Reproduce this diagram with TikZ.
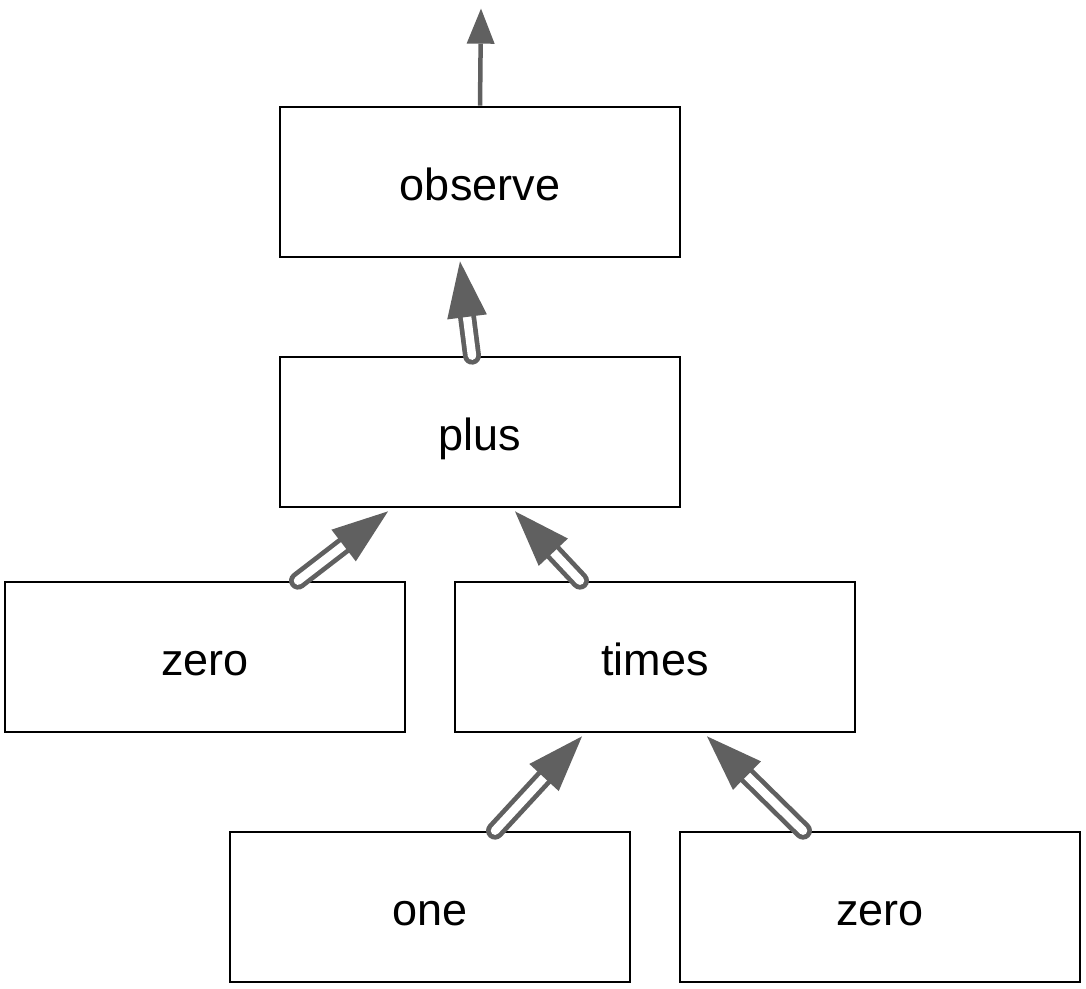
\documentclass[tikz,border=0pt]{standalone}
\usepackage{fontspec}
\setmainfont{Liberation Sans}
\usetikzlibrary{calc}
\definecolor{arrgray}{HTML}{606060}
\tikzset{
  box/.style={draw=black, line width=2.7pt, minimum width=400pt, minimum height=150pt, inner sep=0pt, text height=39pt, text depth=3pt, font=\fontsize{45}{54}\selectfont},
}
\newcommand{\hollowarrow}[2]{%
  \coordinate (hb) at ($(#2)!56pt!(#1)$);
  \draw[arrgray, line width=18pt, line cap=round] (#1) -- ($(hb)!-2pt!(#1)$);
  \draw[white, line width=8.5pt, line cap=round] (#1) -- ($(hb)!-2pt!(#1)$);
  \fill[arrgray] (#2) -- ($(hb)!20pt!90:(#2)$) -- ($(hb)!20pt!-90:(#2)$) -- cycle;
}
\begin{document}
\begin{tikzpicture}[x=1pt, y=-1pt]
\useasboundingbox (0,0) rectangle (1086,988);
\node[box] (observe) at (480,182) {observe};
\node[box] (plus) at (480,432) {plus};
\node[box] (zeroL) at (205,657) {zero};
\node[box] (times) at (655,657) {times};
\node[box] (one) at (430,907) {one};
\node[box] (zeroR) at (880,907) {zero};
% top output arrow
\coordinate (outtip) at ($(observe.north)+(1,-97)$);
\coordinate (outbase) at ($(outtip)!35pt!(observe.north)$);
\draw[arrgray, line width=4.5pt] (observe.north) -- (outbase);
\fill[arrgray] (outtip) -- ($(outbase)!14pt!90:(outtip)$) -- ($(outbase)!14pt!-90:(outtip)$) -- cycle;
% hollow arrows
\coordinate (s1) at ($(plus.north)+(-8,0)$);
\coordinate (t1) at ($(observe.south)+(-20,3)$);
\hollowarrow{s1}{t1}
\coordinate (s2) at ($(zeroL.north)+(93,0)$);
\coordinate (t2) at ($(plus.south)+(-92,3)$);
\hollowarrow{s2}{t2}
\coordinate (s3) at ($(times.north)+(-75,0)$);
\coordinate (t3) at ($(plus.south)+(35,3)$);
\hollowarrow{s3}{t3}
\coordinate (s4) at ($(one.north)+(65,0)$);
\coordinate (t4) at ($(times.south)+(-73,3)$);
\hollowarrow{s4}{t4}
\coordinate (s5) at ($(zeroR.north)+(-77,0)$);
\coordinate (t5) at ($(times.south)+(52,3)$);
\hollowarrow{s5}{t5}
\end{tikzpicture}
\end{document}
